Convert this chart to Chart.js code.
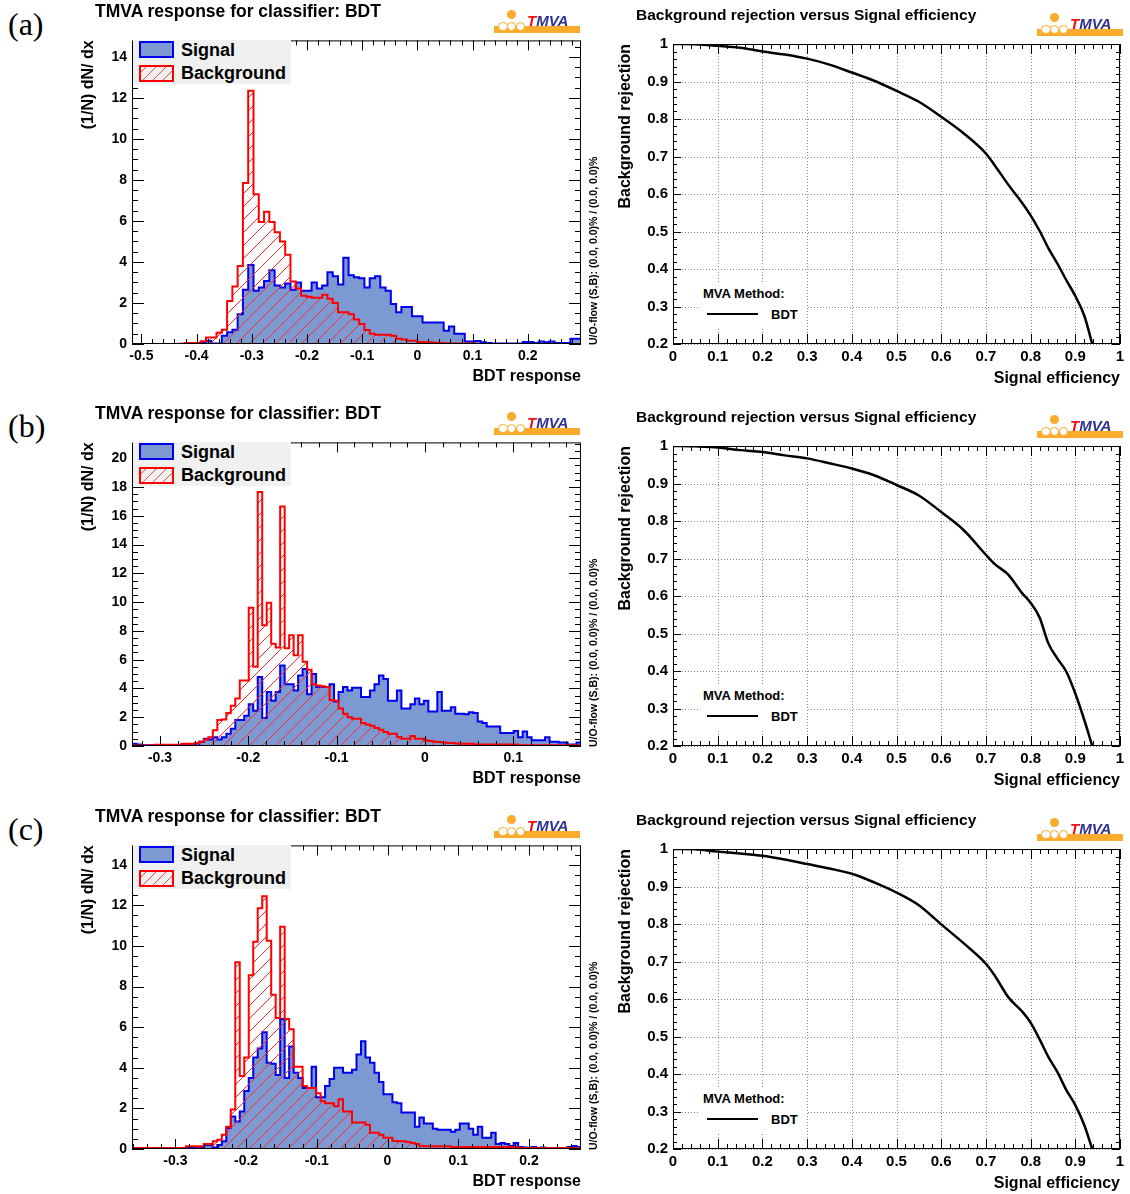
<!DOCTYPE html>
<html>
<head>
<meta charset="utf-8">
<script src="https://cdn.jsdelivr.net/npm/chart.js@4.4.1/dist/chart.umd.min.js"></script>
<style>
  body { margin: 0; width: 1130px; height: 1194px; position: relative; overflow: hidden; background: #fff; }
  canvas { position: absolute; }
</style>
</head>
<body>
<script>
const FONT = "'Liberation Sans', Arial, Helvetica, sans-serif";

// ---- panel (a): BDT response, 85 bins
const xRangeA = [-0.517, 0.2965];
const xTicksA = [-0.5, -0.4, -0.3, -0.2, -0.1, 0, 0.1, 0.2];
const yTicksA = [0, 2, 4, 6, 8, 10, 12, 14];
const yMaxA = 14.8;
const sigA = [0,0,0,0,0,0,0,0,0,0,0,0,
  0.05,0.08,0.16,0.03,0.03,
  0.4,0.57,0.7,1.45,2.65,3.85,2.6,2.75,3.07,3.6,
  2.85,2.75,2.95,2.65,3.0,2.6,2.6,3.0,2.7,2.85,
  3.5,3.3,2.9,4.2,3.35,3.25,3.2,2.75,3.2,3.3,
  2.75,2.6,1.95,1.55,1.8,1.8,1.35,1.35,1.05,1.05,
  1.05,1.05,0.65,0.85,0.5,0.5,0.12,0.12,0.15,0.08,
  0.05,0.03,0.03,0.02,0.02,0.02,0.02,0.1,0.1,0.05,
  0.12,0.08,0.12,0.05,0.05,0.05,0.25,0.25];
const bkgA = [0,0,0,0,0,0,0,0,0,0.01,
  0.05,0.05,0.05,0.13,0.32,0.32,0.55,
  0.7,2.1,2.8,3.8,7.85,12.35,7.3,5.95,6.45,5.95,
  5.45,5.0,4.35,3.05,2.7,2.35,2.3,2.25,2.25,2.4,
  2.2,2.0,1.55,1.55,1.45,1.2,0.97,0.68,0.5,0.45,
  0.45,0.45,0.4,0.25,0.22,0.16,0.16,0.1,0.08,0.08,
  0.06,0.05,0.04,0.03,0.02,0.02,0.02,0.02,0,0,
  0,0,0,0,0,0,0,0,0,0,
  0,0,0,0,0,0,0,0];

// ---- panel (b): 100 bins
const xRangeB = [-0.3317, 0.1768];
const xTicksB = [-0.3, -0.2, -0.1, 0, 0.1];
const yTicksB = [0, 2, 4, 6, 8, 10, 12, 14, 16, 18, 20];
const yMaxB = 21.1;
const sigB = [0.15,0.1,0.05,0.05,0.05,0.03,0.05,0.05,0.05,0.05,
  0.05,0.05,0.05,0.05,0.05,0.3,0.5,0.45,0.6,0.45,
  0.6,0.85,1.2,1.8,1.8,2.1,2.9,2.45,4.8,1.95,
  3.75,3.15,3.75,5.6,4.3,4.3,3.85,4.9,5.35,3.6,
  5.0,4.1,4.1,4.1,4.3,3.1,3.75,4.1,3.85,4.05,
  4.05,3.4,3.4,3.85,4.3,4.9,4.65,3.15,3.15,3.85,
  2.6,2.6,2.9,3.3,2.9,3.15,2.4,2.4,3.75,2.45,
  2.45,2.7,2.25,2.25,2.2,2.35,2.3,1.7,1.6,1.35,
  1.35,1.35,0.9,0.9,0.9,1.05,0.6,1.0,0.6,0.4,
  0.4,0.4,0.6,0.3,0.3,0.25,0.25,0.1,0.1,0.25];
const bkgB = [0.03,0.03,0.03,0.03,0.03,0.08,0.08,0.08,0.08,0.08,
  0.08,0.15,0.15,0.15,0.2,0.3,0.45,0.6,1.1,1.8,
  1.85,2.3,2.8,3.3,4.55,4.55,9.6,5.5,17.65,8.4,
  9.95,7.1,6.85,16.65,6.8,7.7,6.3,7.7,5.85,5.3,
  4.3,4.2,4.15,4.1,3.2,3.15,2.6,2.25,2.0,1.9,
  1.9,1.6,1.5,1.4,1.25,1.13,0.97,0.85,0.85,0.62,
  0.5,0.5,0.7,0.5,0.5,0.4,0.35,0.3,0.28,0.25,
  0.2,0.2,0.18,0.16,0.15,0.15,0.12,0.1,0.1,0.1,
  0.1,0.1,0.1,0.1,0.1,0.1,0.05,0.05,0.05,0.05,
  0.05,0.05,0.05,0.05,0.05,0.05,0.05,0.05,0.05,0.05];

// ---- panel (c): 100 bins
const xRangeC = [-0.3613, 0.2736];
const xTicksC = [-0.3, -0.2, -0.1, 0, 0.1, 0.2];
const yTicksC = [0, 2, 4, 6, 8, 10, 12, 14];
const yMaxC = 14.95;
const sigC = [0,0,0,0,0,0,0,0,0,0,
  0.03,0.05,0.1,0.1,0.1,0.1,0.18,0.18,0.08,0.2,
  0.38,1.03,1.6,1.35,1.85,2.85,3.5,4.5,4.95,5.75,
  4.25,4.2,3.65,6.4,3.5,5.05,3.75,3.5,3.0,3.0,
  4.05,2.55,2.55,3.1,3.45,4.0,4.0,3.75,3.75,3.9,
  4.65,5.3,4.5,4.25,3.75,3.3,2.7,2.7,2.3,2.25,
  1.8,1.8,1.8,1.1,1.55,1.25,1.25,1.0,0.95,0.95,
  0.95,0.85,0.95,1.25,1.25,1.0,0.7,1.1,0.55,0.55,
  0.8,0.25,0.3,0.25,0.15,0.3,0.1,0.08,0.05,0.1,
  0.05,0.08,0.05,0.05,0.05,0.05,0.05,0.1,0.15,0.1];
const bkgC = [0.05,0.05,0.05,0.05,0.05,0.05,0.05,0.05,0.05,0.05,
  0.05,0.05,0.13,0.13,0.13,0.13,0.25,0.25,0.38,0.46,
  0.7,1.1,1.95,9.2,3.6,4.5,8.55,10.2,11.85,12.45,
  10.25,7.6,6.45,10.95,6.4,5.9,4.05,4.05,3.1,3.0,
  3.0,2.75,2.35,2.25,2.25,2.1,2.45,1.85,1.85,1.3,
  1.3,1.3,1.2,0.8,0.8,0.7,0.55,0.55,0.4,0.38,
  0.38,0.35,0.3,0.25,0.15,0.13,0.13,0.13,0.13,0.13,
  0.13,0.1,0.1,0.1,0.1,0.1,0.1,0.1,0.1,0.1,
  0.1,0.1,0.1,0.1,0.1,0.1,0.05,0.05,0.05,0.05,
  0.05,0.05,0.05,0.05,0.05,0.05,0.05,0.05,0.05,0.05];

// ---- ROC curves
const sigEff = [0, 0.02, 0.05, 0.1, 0.15, 0.2, 0.25, 0.3, 0.35, 0.4, 0.45, 0.5, 0.55, 0.6, 0.65,
  0.7, 0.72, 0.75, 0.78, 0.8, 0.82, 0.84, 0.86, 0.88, 0.9, 0.92, 0.938];
const rejA = [1.0, 1.0, 0.999, 0.995, 0.99, 0.98, 0.972, 0.961, 0.945, 0.924, 0.902, 0.875, 0.846, 0.806, 0.762,
  0.708, 0.676, 0.625, 0.578, 0.543, 0.502, 0.455, 0.414, 0.37, 0.328, 0.276, 0.2];
const rejB = [1.0, 1.0, 0.999, 0.996, 0.989, 0.984, 0.975, 0.967, 0.954, 0.94, 0.922, 0.896, 0.868, 0.824, 0.776,
  0.71, 0.685, 0.657, 0.609, 0.582, 0.543, 0.473, 0.433, 0.398, 0.34, 0.27, 0.2];
const rejC = [1.0, 1.0, 0.999, 0.993, 0.988, 0.982, 0.972, 0.96, 0.948, 0.934, 0.911, 0.884, 0.85, 0.799, 0.749,
  0.694, 0.662, 0.605, 0.568, 0.537, 0.493, 0.445, 0.405, 0.357, 0.317, 0.264, 0.2];
const rocXTicks = [0, 0.1, 0.2, 0.3, 0.4, 0.5, 0.6, 0.7, 0.8, 0.9, 1];
const rocYTicks = [0.2, 0.3, 0.4, 0.5, 0.6, 0.7, 0.8, 0.9, 1];

Chart.defaults.font.family = FONT;

// ROOT style frame: inward ticks on all four sides, optional dotted grid
const rootFrame = {
  id: 'rootFrame',
  beforeDatasetsDraw(chart, args, o) {
    if (!o.grid) return;
    const { ctx, chartArea: a, scales: { x, y } } = chart;
    ctx.save();
    ctx.strokeStyle = '#8a8a8a';
    ctx.lineWidth = 1;
    ctx.setLineDash([1, 2]);
    ctx.beginPath();
    x.ticks.forEach(t => { const p = Math.round(x.getPixelForValue(t.value)) + 0.5; ctx.moveTo(p, a.top); ctx.lineTo(p, a.bottom); });
    y.ticks.forEach(t => { const p = Math.round(y.getPixelForValue(t.value)) + 0.5; ctx.moveTo(a.left, p); ctx.lineTo(a.right, p); });
    ctx.stroke();
    ctx.restore();
  },
  afterDatasetsDraw(chart, args, o) {
    const { ctx, chartArea: a, scales: { x, y } } = chart;
    const marks = (s, minor, major) => {
      const out = [];
      for (let k = Math.ceil(s.min / minor - 1e-6); k <= Math.floor(s.max / minor + 1e-6); k++) {
        const v = k * minor, r = v / major;
        out.push([Math.round(s.getPixelForValue(v)) + 0.5, Math.abs(r - Math.round(r)) < 1e-6]);
      }
      return out;
    };
    ctx.save();
    ctx.strokeStyle = '#000';
    ctx.lineWidth = 1;
    ctx.beginPath();
    marks(x, o.xMinor, o.xMajor).forEach(([p, big]) => {
      const l = big ? o.xLen : o.xLen / 2;
      ctx.moveTo(p, a.bottom); ctx.lineTo(p, a.bottom - l);
      ctx.moveTo(p, a.top); ctx.lineTo(p, a.top + l);
    });
    marks(y, o.yMinor, o.yMajor).forEach(([p, big]) => {
      const l = big ? o.yLen : o.yLen / 2;
      ctx.moveTo(a.left, p); ctx.lineTo(a.left + l, p);
      ctx.moveTo(a.right, p); ctx.lineTo(a.right - l, p);
    });
    ctx.stroke();
    ctx.strokeRect(a.left + 0.5, a.top + 0.5, a.right - a.left - 1, a.bottom - a.top - 1);
    ctx.restore();
  }
};

function hatchPattern() {
  const c = document.createElement('canvas');
  c.width = 13; c.height = 13;
  const g = c.getContext('2d');
  g.strokeStyle = '#ff2a2a';
  g.lineWidth = 1;
  g.beginPath();
  g.moveTo(0, 13); g.lineTo(13, 0);
  g.moveTo(-6, 6); g.lineTo(6, -6);
  g.moveTo(7, 19); g.lineTo(19, 7);
  g.stroke();
  return g.createPattern(c, 'repeat');
}
const hatch = hatchPattern();

const fmt = v => String(Math.round(v * 100) / 100);

function addText(txt, css) {
  const d = document.createElement('div');
  d.textContent = txt;
  d.style.cssText = 'position:absolute;white-space:nowrap;color:#000;' + css;
  document.body.appendChild(d);
  return d;
}
function addBox(css) {
  const d = document.createElement('div');
  d.style.cssText = 'position:absolute;box-sizing:border-box;' + css;
  document.body.appendChild(d);
  return d;
}

function addLogo(x, y) {
  const orange = '#fbab2b';
  addBox(`left:${x + 1}px;top:${y + 16}px;width:86px;height:7px;background:${orange};`);
  [9.8, 18.7, 27.5].forEach(cx => addBox(`left:${x + cx - 4.8}px;top:${y + 11.8}px;width:9.6px;height:9.6px;border-radius:50%;background:#fff;border:1px solid ${orange};`));
  addBox(`left:${x + 13.8}px;top:${y}px;width:9.4px;height:9.4px;border-radius:50%;background:${orange};`);
  const t = addText('', `left:${x + 34}px;top:${y + 3}px;font:italic bold 15px/15px ${FONT};`);
  t.innerHTML = '<span style="color:#ee1111">T</span><span style="color:#2e3192">MVA</span>';
}

function axisCfg(min, max, vals, fitKey, fitVal, title, titlePad, tickSize, tickPad) {
  return {
    type: 'linear', min, max,
    afterBuildTicks: s => { s.ticks = vals.map(v => ({ value: v })); },
    afterFit: s => { s[fitKey] = fitVal; },
    grid: { display: false, drawTicks: false },
    border: { display: false },
    ticks: { autoSkip: false, maxRotation: 0, padding: tickPad, color: '#000',
      font: { size: tickSize, weight: 'bold' }, callback: v => fmt(v) },
    title: { display: true, text: title, align: 'end', color: '#000', padding: titlePad,
      font: { size: 16, weight: 'bold' } }
  };
}

function histChart(dy, sig, bkg, xr, xTicks, yTicks, yMax) {
  const cv = document.createElement('canvas');
  cv.width = 521; cv.height = 367;
  cv.style.left = '72px'; cv.style.top = (27 + dy) + 'px';
  document.body.appendChild(cv);
  const w = (xr[1] - xr[0]) / sig.length;
  const steps = vals => {
    const pts = [{ x: xr[0], y: 0 }];
    vals.forEach((v, i) => pts.push({ x: xr[0] + i * w, y: v }));
    pts.push({ x: xr[1], y: 0 });
    return pts;
  };
  return new Chart(cv, {
    type: 'line',
    data: {
      datasets: [
        { label: 'Signal', data: steps(sig), stepped: true, borderColor: '#0000ee', borderWidth: 2,
          backgroundColor: '#7d99d1', fill: 'origin', pointRadius: 0, order: 1 },
        { label: 'Background', data: steps(bkg), stepped: true, borderColor: '#ff0000', borderWidth: 2,
          backgroundColor: hatch, fill: 'origin', pointRadius: 0, order: 0 }
      ]
    },
    options: {
      responsive: false, animation: false, events: [],
      layout: { padding: { left: 0, top: 12, right: 12, bottom: 0 } },
      plugins: {
        legend: { display: false }, tooltip: { enabled: false },
        rootFrame: { xMajor: 0.1, xMinor: 0.02, yMajor: 2, yMinor: 0.5, xLen: 10, yLen: 12 }
      },
      scales: {
        x: axisCfg(xr[0], xr[1], xTicks, 'height', 50, 'BDT response', { top: 0, bottom: 8 }, 14, 4),
        y: axisCfg(0, yMax, yTicks, 'width', 60, '(1/N) dN/ dx', { top: 7, bottom: 0 }, 14, 5)
      }
    },
    plugins: [rootFrame]
  });
}

function histLegend(chart, dy) {
  const [s, b] = chart.data.datasets;
  addBox(`left:133px;top:${40 + dy}px;width:158px;height:44px;background:#f0f0f0;`);
  addBox(`left:139px;top:${41 + dy}px;width:35px;height:17px;background:${s.backgroundColor};border:2px solid ${s.borderColor};`);
  addBox(`left:139px;top:${65 + dy}px;width:35px;height:17px;background:repeating-linear-gradient(-45deg,transparent 0 6px,#ff4a4a 6px 7px);border:2px solid ${b.borderColor};`);
  addText(s.label, `left:181px;top:${40 + dy}px;font:bold 18px/20px ${FONT};`);
  addText(b.label, `left:181px;top:${63 + dy}px;font:bold 18px/20px ${FONT};`);
}

function rocChart(dy, rej) {
  const cv = document.createElement('canvas');
  cv.width = 517; cv.height = 364;
  cv.style.left = '613px'; cv.style.top = (30 + dy) + 'px';
  document.body.appendChild(cv);
  return new Chart(cv, {
    type: 'line',
    data: {
      datasets: [{ label: 'BDT', data: sigEff.map((e, i) => ({ x: e, y: rej[i] })), borderColor: '#000',
        borderWidth: 2.5, pointRadius: 0, cubicInterpolationMode: 'monotone', fill: false }]
    },
    options: {
      responsive: false, animation: false, events: [],
      layout: { padding: { left: 0, top: 12, right: 10, bottom: 0 } },
      plugins: {
        legend: { display: false }, tooltip: { enabled: false },
        rootFrame: { grid: true, xMajor: 0.1, xMinor: 0.02, yMajor: 0.1, yMinor: 0.02, xLen: 10, yLen: 8 }
      },
      scales: {
        x: axisCfg(0, 1, rocXTicks, 'height', 50, 'Signal efficiency', { top: 0, bottom: 6 }, 15, 4),
        y: axisCfg(0.2, 1, rocYTicks, 'width', 60, 'Background rejection', { top: 3, bottom: 0 }, 15, 5)
      }
    },
    plugins: [rootFrame]
  });
}

function rocLegend(chart, dy) {
  addBox(`left:700px;top:${283 + dy}px;width:106px;height:46px;background:#fff;`);
  addText('MVA Method:', `left:703px;top:${286 + dy}px;font:bold 13px/15px ${FONT};`);
  addBox(`left:707px;top:${312.5 + dy}px;width:51px;height:2.7px;background:#000;`);
  addText(chart.data.datasets[0].label, `left:771px;top:${307 + dy}px;font:bold 13px/15px ${FONT};`);
}

const panels = [
  { tag: '(a)', dy: 0, sig: sigA, bkg: bkgA, xr: xRangeA, xt: xTicksA, yt: yTicksA, ymax: yMaxA, rej: rejA },
  { tag: '(b)', dy: 402, sig: sigB, bkg: bkgB, xr: xRangeB, xt: xTicksB, yt: yTicksB, ymax: yMaxB, rej: rejB },
  { tag: '(c)', dy: 805, sig: sigC, bkg: bkgC, xr: xRangeC, xt: xTicksC, yt: yTicksC, ymax: yMaxC, rej: rejC }
];

panels.forEach(p => {
  const h = histChart(p.dy, p.sig, p.bkg, p.xr, p.xt, p.yt, p.ymax);
  histLegend(h, p.dy);
  const r = rocChart(p.dy, p.rej);
  rocLegend(r, p.dy);
  addText(p.tag, `left:8px;top:${8 + p.dy}px;font:32px/32px 'Liberation Serif','DejaVu Serif',serif;`);
  addText('TMVA response for classifier: BDT', `left:95px;top:${1 + p.dy}px;font:bold 17.5px/20px ${FONT};`);
  addText('Background rejection versus Signal efficiency', `left:636px;top:${6 + p.dy}px;font:bold 15.5px/18px ${FONT};`);
  addLogo(493, 10 + p.dy);
  addLogo(1036, 13 + p.dy);
  addText('U/O-flow (S,B): (0.0, 0.0)% / (0.0, 0.0)%',
    `left:587px;top:${345 + p.dy}px;font:bold 10.5px/12px ${FONT};transform-origin:0 0;transform:rotate(-90deg);`);
});
</script>
</body>
</html>
